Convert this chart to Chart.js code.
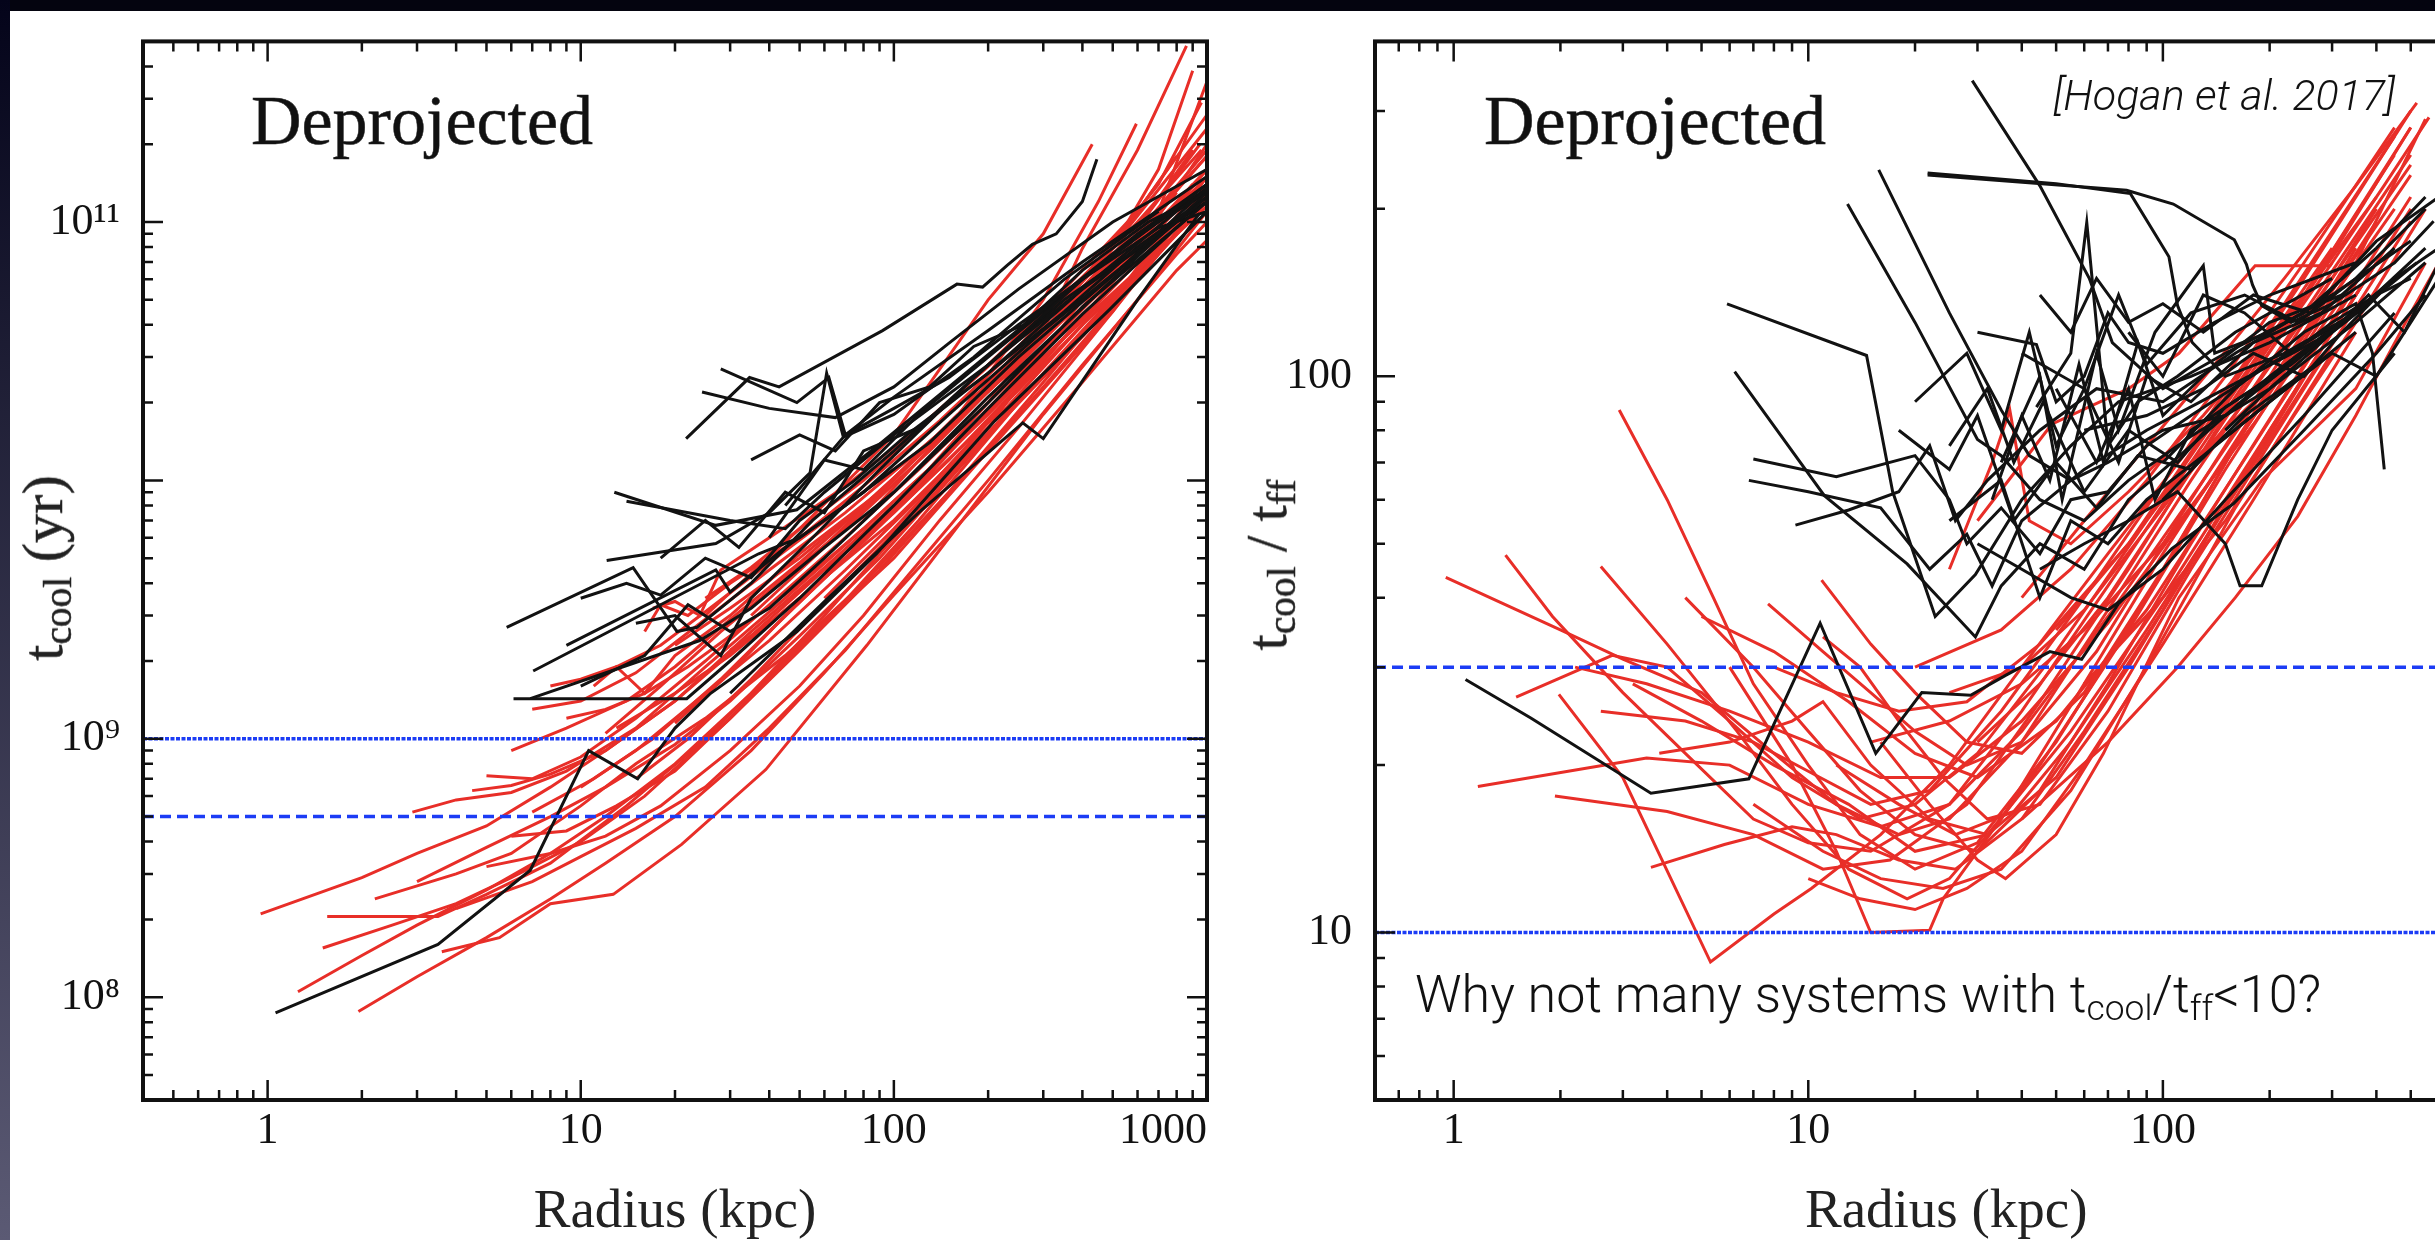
<!DOCTYPE html>
<html lang="en">
<head>
<meta charset="UTF-8">
<title>Cooling time profiles (deprojected)</title>
<script src="https://cdn.jsdelivr.net/npm/chart.js"></script>
<style>
  html, body { margin: 0; padding: 0; }
  body { width: 2435px; height: 1240px; overflow: hidden; position: relative; background: #04040f; }
  .edge { position: absolute; left: 0; top: 0; width: 10px; height: 1240px; background: linear-gradient(#04041a, #5b5a74); }
  .sheet { position: absolute; left: 10px; top: 11px; right: 0; bottom: 0; background: #fff; }
  canvas { position: absolute; top: 0; }
  #leftChart { left: 0; }
  #rightChart { left: 1290px; }
  .note { position: absolute; white-space: nowrap; color: #111; }
  .serif { font-family: 'Liberation Serif', serif; -webkit-text-stroke: 0.5px #222; }
  .sans { font-family: Roboto, 'Liberation Sans', sans-serif; font-weight: 300; }
  .ytitle { font-size: 58px; line-height: 1; transform: translate(-50%, -50%) rotate(-90deg); color: #222; }
  sub { font-size: 68%; vertical-align: -0.22em; line-height: 0; }
</style>
</head>
<body>
<div class="edge"></div>
<div class="sheet"></div>
<canvas id="leftChart" width="1290" height="1240"></canvas>
<canvas id="rightChart" width="1310" height="1240"></canvas>

<div class="note serif" style="left:251px; top:86px; font-size:70px; line-height:70px;">Deprojected</div>
<div class="note serif" style="left:1484px; top:86px; font-size:70px; line-height:70px;">Deprojected</div>
<div class="note sans" style="right:40px; top:74px; font-size:43px; line-height:43px; font-style:italic;">[Hogan et al. 2017]</div>
<div class="note sans" style="left:1415px; top:969px; font-size:52px; line-height:52px;">Why not many systems with t<sub>cool</sub>/t<sub>ff</sub>&lt;10?</div>
<div class="note serif ytitle" style="left:43px; top:568px;">t<sub>cool</sub> (yr)</div>
<div class="note serif ytitle" style="left:1267px; top:565px;">t<sub>cool</sub> / t<sub>ff</sub></div>

<script>
// ---- axis ranges and tick labels ----
const leftXRange = [0.4, 1000];
const leftYRange = [4e7, 5e11];
const rightXRange = [0.6, 1000];
const rightYRange = [5, 400];

const xTickValues = [1, 10, 100, 1000];
const xTickLabels = ['1', '10', '100', '1000'];
const leftYTickValues = [1e8, 1e9, 1e11];
const leftYTickLabels = ['10⁸', '10⁹', '10¹¹'];
const rightYTickValues = [10, 100];
const rightYTickLabels = ['10', '100'];

// horizontal reference levels
const leftDotted = 1e9;
const leftDashed = 5e8;
const rightDotted = 10;
const rightDashed = 30;

// ---- left panel: t_cool (yr) vs radius (kpc) ----
const leftRed = [
  [[0.95,2.1e8],[2,2.9e8],[3,3.6e8],[5,4.6e8],[8,6.5e8],[12,9e8],[20,1.4e9],[35,2.6e9],[60,4.6e9],[100,8e9],[200,1.8e10],[400,4.2e10],[700,8.5e10],[1000,1.3e11]],
  [[1.25,1.05e8],[2,1.45e8],[3,1.9e8],[5,2.6e8],[8,3.6e8],[12,5e8],[20,8e8],[35,1.5e9],[60,3e9],[100,6e9],[200,1.5e10],[400,3.6e10],[700,7.5e10],[1000,1.2e11]],
  [[1.95,8.8e7],[3,1.2e8],[5,1.7e8],[8,2.4e8],[12,3.3e8],[20,5e8],[35,9e8],[60,1.8e9],[100,3.6e9],[200,9e9],[400,2.4e10],[800,6.5e10],[1000,8.5e10]],
  [[1.55,2.05e8],[3.5,2.05e8],[5,2.5e8],[8,3.3e8],[14,5.5e8],[25,1e9],[50,2.3e9],[100,5e9],[200,1.3e10],[500,4.5e10],[1000,1.4e11]],
  [[1.5,1.55e8],[2.5,1.9e8],[4,2.3e8],[6,2.9e8],[10,4e8],[16,6e8],[30,1.2e9],[60,2.8e9],[120,7e9],[250,2e10],[500,5e10],[1000,1.5e11]],
  [[3.6,1.5e8],[5.5,1.7e8],[8,2.3e8],[12.7,2.5e8],[21,3.9e8],[39,7.6e8],[82,2.3e9],[150,6e9],[300,1.8e10],[600,5e10],[1000,1.1e11]],
  [[2.9,5.2e8],[4,5.8e8],[6,6.2e8],[9,7.5e8],[15,1.1e9],[25,1.9e9],[45,3.5e9],[80,6.5e9],[150,1.3e10],[300,3e10],[600,6.5e10],[1000,1.15e11]],
  [[4.5,6.3e8],[6,6.6e8],[8,7.3e8],[12,9e8],[20,1.4e9],[35,2.5e9],[60,4.5e9],[100,7.5e9],[200,1.7e10],[400,4e10],[800,9e10],[1000,1.25e11]],
  [[5,7.2e8],[7,7e8],[10,8.5e8],[15,1.2e9],[25,2e9],[40,3.3e9],[70,6e9],[120,1.1e10],[250,2.6e10],[500,6e10],[900,1.3e11]],
  [[8,1.6e9],[10,1.7e9],[13,1.9e9],[18,2.3e9],[25,3.1e9],[40,4.8e9],[70,8e9],[120,1.3e10],[250,2.8e10],[500,6.5e10],[1000,1.6e11]],
  [[9,1.2e9],[12,1.3e9],[16,1.5e9],[22,1.9e9],[30,2.5e9],[50,4e9],[80,6.5e9],[150,1.3e10],[300,3.2e10],[600,8e10],[1000,2e11]],
  [[3,2.8e8],[5,3.8e8],[8,5e8],[12,6.5e8],[20,9.5e8],[30,1.4e9],[50,2.5e9],[90,5e9],[160,1.1e10],[300,2.6e10],[600,6.5e10],[1000,1.3e11]],
  [[2.2,2.4e8],[4,3e8],[6,3.6e8],[10,5.5e8],[15,8e8],[25,1.2e9],[45,2.1e9],[80,4e9],[150,9e9],[300,2.3e10],[600,6e10],[1000,1.25e11]],
  [[5,3.2e8],[8,3.6e8],[12,4.2e8],[18,5.5e8],[30,9e8],[50,1.6e9],[80,3e9],[140,7e9],[250,1.6e10],[500,4.5e10],[1000,1.3e11]],
  [[6,4.2e8],[9,4.4e8],[13,5.5e8],[20,7.5e8],[30,1.2e9],[50,2.2e9],[90,4.5e9],[150,9e9],[300,2.4e10],[600,6.5e10],[1000,1.5e11]],
  [[4,2.2e8],[7,2.8e8],[10,3.5e8],[15,4.5e8],[25,6.5e8],[40,1.1e9],[70,2.2e9],[120,4.8e9],[200,1e10],[400,2.8e10],[800,7.5e10],[1000,1e11]],
  [[7,1.3e9],[10,1.4e9],[15,1.8e9],[25,2.9e9],[40,4.5e9],[70,7.5e9],[120,1.3e10],[200,2.2e10],[400,5e10],[700,1.1e11],[1000,1.8e11]],
  [[11,1.6e9],[13,1.9e9],[16,1.5e9],[20,2.1e9],[30,3e9],[50,5.2e9],[90,9e9],[150,1.6e10],[300,3.8e10],[600,9.5e10],[900,1.9e11]],
  [[16,2.6e9],[18,3.3e9],[22,3e9],[30,4e9],[50,6e9],[80,9.5e9],[140,1.7e10],[250,3.3e10],[500,8e10],[1000,2.3e11]],
  [[25,3.5e9],[35,4.6e9],[50,6.5e9],[80,1e10],[150,2e10],[300,4.5e10],[600,1.1e11],[1000,2.6e11]],
  [[20,2.3e9],[30,3.2e9],[50,5e9],[80,8e9],[150,1.6e10],[300,3.8e10],[600,9e10],[1000,1.8e11]],
  [[13,1.1e9],[20,1.5e9],[30,2.1e9],[50,3.5e9],[80,5.8e9],[150,1.2e10],[300,2.9e10],[600,7.5e10],[1000,1.6e11]],
  [[30,2.2e9],[40,2.8e9],[60,4.2e9],[100,7e9],[200,1.6e10],[400,4e10],[700,1.1e11],[1000,3.5e11]],
  [[40,2.6e9],[70,5e9],[120,1e10],[200,2e10],[300,3.8e10],[400,7.9e10],[600,1.9e11],[860,4.8e11]],
  [[60,3.5e9],[100,6.5e9],[200,1.6e10],[400,5e10],[700,1.6e11],[900,3.85e11]],
  [[35,3e9],[60,5.5e9],[100,1e10],[200,2.3e10],[400,6e10],[700,1.4e11],[960,2.9e11]],
  [[50,4.5e9],[90,9e9],[160,1.8e10],[300,4e10],[600,1e11],[960,1.9e11]],
  [[25,3e9],[50,6.5e9],[100,1.5e10],[200,5e10],[300,9e10],[430,2e11]],
  [[80,7e9],[150,1.6e10],[300,5e10],[450,1.2e11],[595,2.4e11]],
  [[10,6.5e8],[15,9e8],[25,1.5e9],[40,2.4e9],[70,4.5e9],[120,8.5e9],[220,1.9e10],[450,5e10],[900,1.4e11]],
  [[7,5.2e8],[11,7e8],[17,1e9],[28,1.7e9],[45,3e9],[80,5.8e9],[140,1.2e10],[280,2.9e10],[550,7e10],[1000,1.5e11]],
  [[12,1.05e9],[18,1.6e9],[28,2.6e9],[45,4.2e9],[75,7e9],[130,1.3e10],[250,2.9e10],[500,7e10],[1000,1.9e11]],
  [[15,7e8],[22,1e9],[35,1.7e9],[55,3e9],[90,5.5e9],[160,1.15e10],[320,2.8e10],[650,7e10],[1000,1.2e11]],
  [[20,1.15e9],[30,1.8e9],[45,3e9],[70,5e9],[120,9.5e9],[220,2.1e10],[420,5e10],[800,1.3e11]],
  [[6,9e8],[9,1.1e9],[14,1.4e9],[20,1.9e9],[30,2.9e9],[50,4.8e9],[85,8.5e9],[150,1.6e10],[300,3.8e10],[600,9.5e10],[950,2e11]],
  [[17,3.2e9],[20,3.4e9],[24,3e9],[28,4.5e9],[40,6e9],[70,9.5e9],[120,1.6e10],[250,3.5e10],[500,8e10],[800,1.8e11]]
];

const leftBlack = [
  [[1.06,8.7e7],[3.5,1.6e8],[6.9,3.1e8],[10.6,9e8],[15.2,7e8],[20,1.1e9],[26,1.5e9],[49,2.6e9],[88,5.2e9],[210,1.7e10],[490,4.6e10],[1000,1.1e11]],
  [[6.1,1.43e9],[21.8,1.43e9],[30,2e9],[50,3.5e9],[100,8e9],[200,1.9e10],[400,4.4e10],[800,9.5e10],[1000,1.2e11]],
  [[6.9,1.43e9],[24,2.4e9],[35,3.2e9],[60,5.5e9],[100,9e9],[200,2.1e10],[500,6e10],[1000,1.3e11]],
  [[5.8,2.7e9],[14.7,4.6e9],[20.3,2.6e9],[23.5,2.7e9],[35,4e9],[55,7e9],[100,1.3e10],[200,2.8e10],[400,6e10],[1000,1.4e11]],
  [[7.05,1.83e9],[37,5.2e9],[50,6e9],[80,9e9],[150,1.8e10],[300,3.8e10],[600,7.5e10],[1000,1.25e11]],
  [[9,2.3e9],[27,4.5e9],[30,3.7e9],[45,5.5e9],[70,8e9],[130,1.4e10],[250,3e10],[500,6.2e10],[1000,1.35e11]],
  [[12.8,9e9],[27,6.7e9],[49,7.7e9],[88,1.35e10],[150,2.3e10],[300,4.6e10],[600,9e10],[1000,1.4e11]],
  [[14,8.3e9],[30,7e9],[45,6.5e9],[60,9e9],[100,1.5e10],[200,2.8e10],[400,5.5e10],[800,1.1e11],[1000,1.3e11]],
  [[21.7,1.45e10],[34.6,2.5e10],[43,2.3e10],[92,3.8e10],[159,5.75e10],[192,5.6e10],[230,6.8e10],[277,8.2e10],[330,9e10],[400,1.2e11],[445,1.75e11]],
  [[24.4,2.2e10],[40,1.9e10],[65,1.75e10],[100,2.3e10],[150,3.4e10],[250,5.5e10],[500,1e11],[1000,1.6e11]],
  [[28,2.7e10],[49,2e10],[62,2.5e10],[70,1.5e10],[100,2.1e10],[200,3.8e10],[400,7e10],[1000,1.5e11]],
  [[12.1,4.9e9],[27,5.7e9],[40,7.5e9],[54,1.07e10],[61,2.6e10],[69,1.47e10],[100,1.8e10],[180,3e10],[350,6e10],[700,1.1e11]],
  [[30,1.5e9],[60,3.4e9],[120,7.5e9],[258,1.67e10],[300,1.45e10],[600,5e10],[946,1.08e11]],
  [[10,1.6e9],[16,2.1e9],[22,3.3e9],[30,2.6e9],[40,3.2e9],[60,5e9],[100,9e9],[200,2e10],[400,4.7e10],[1000,1.2e11]],
  [[15,2.8e9],[20,3e9],[28,2.1e9],[35,3.5e9],[55,6e9],[90,1.1e10],[180,2.5e10],[350,5e10],[700,9e10],[1000,1.2e11]],
  [[40,6e9],[60,1.2e10],[80,1.1e10],[120,1.8e10],[200,3e10],[300,4.5e10],[500,7.5e10],[700,1e11],[1000,1.35e11]],
  [[45,8e9],[70,1.5e10],[100,1.9e10],[150,2.5e10],[250,4e10],[400,6e10],[700,9.5e10],[1000,1.1e11]],
  [[18,5e9],[25,7e9],[32,5.5e9],[45,9e9],[60,7.5e9],[80,1.3e10],[120,1.6e10],[200,2.6e10],[350,4.5e10],[600,8e10],[1000,1.25e11]],
  [[10,3.5e9],[14,4e9],[18,3.6e9],[25,5e9],[35,4.2e9],[50,7e9],[75,1e10],[110,1.5e10],[200,2.6e10],[400,5.5e10],[800,1e11]],
  [[35,1.2e10],[50,1.5e10],[65,1.3e10],[90,2e10],[130,2.3e10],[180,3.3e10],[260,4e10],[400,6.5e10],[650,1e11],[1000,1.3e11]]
];

// ---- right panel: t_cool / t_ff vs radius (kpc) ----
const rightRed = [
  [[0.95,43.5],[2,35],[3,31],[5,27],[8,21],[12,17],[18,15],[25,16],[40,22],[70,38],[120,65],[250,130],[500,250]],
  [[1.4,47.7],[1.9,37],[3,27],[4.5,21],[7,16],[10,14.5],[15,14],[25,17],[40,25],[70,42],[120,70],[250,140],[500,280]],
  [[1.5,26.5],[2.8,31.5],[4,30],[6,24],[9,19],[14,16],[20,17],[30,21],[50,32],[90,55],[180,105],[400,210]],
  [[1.17,18.3],[3.5,20.6],[6,20],[10,17],[16,15.5],[25,17],[40,23],[70,37],[130,65],[250,120],[500,230]],
  [[1.93,17.6],[4,16.5],[7,15],[11,13],[17,13.5],[28,17],[45,26],[80,45],[150,85],[300,160]],
  [[1.98,26.8],[3,19],[5.3,8.85],[8,10.8],[10.2,12],[16,15],[25,20],[40,30],[70,48],[130,80],[250,150],[500,300]],
  [[2.6,45.5],[4,33],[6.3,23],[9,17],[13,13],[19,11.5],[25,12.5],[35,16],[60,28],[100,48],[200,95],[400,190]],
  [[2.93,87],[4,60],[5.4,40],[7,28],[10,20],[14,15],[20,13],[30,14.5],[50,22],[90,40],[170,80],[350,160],[550,290]],
  [[4.5,40],[7,30],[10,23],[14,18],[20,15],[30,14],[45,18],[70,28],[120,50],[250,105],[500,210]],
  [[2.6,25],[4.5,24],[7,22],[10,19.5],[15,17],[22,18],[35,25],[60,40],[110,70],[220,135],[450,270]],
  [[7.7,39],[11,32],[15,27],[20,23],[28,20],[40,22],[65,32],[110,55],[200,100],[400,200]],
  [[10.9,43],[15,33],[20,27],[28,22],[40,21],[60,27],[100,45],[180,85],[350,170]],
  [[3.8,21],[6,22],[9,24],[11,26],[15,20],[22,16],[32,15],[50,19],[80,30],[150,58],[300,115]],
  [[3.6,13.1],[5.8,14.4],[9,15.5],[12,15],[18,13.5],[26,13],[40,16],[60,23],[100,38],[200,80],[400,160]],
  [[6,30],[9,20],[12,14],[15,10],[22,10.1],[24,11.5],[30,14],[45,20],[80,35],[150,68],[300,135]],
  [[16,22],[22,17],[30,13.5],[36,12.5],[50,15],[68,21],[111,40],[190,65],[350,95],[550,160]],
  [[11,34],[14,30],[18,24],[24,19],[32,16],[45,17],[70,25],[120,45],[250,95],[500,190]],
  [[25,45],[33,70],[37,87],[42,55],[55,50],[80,62],[130,85],[250,140],[450,250]],
  [[30,55],[48.6,82],[80,95],[111,110],[182,158],[296,158],[420,220],[563,292]],
  [[30,22],[45,28],[70,40],[110,62],[180,100],[300,165],[500,280]],
  [[20,30],[35,35],[55,45],[90,65],[150,100],[250,160],[450,280]],
  [[40,40],[60,55],[90,75],[140,105],[220,150],[350,220],[520,310]],
  [[50,35],[80,50],[120,70],[180,90],[280,130],[450,200]],
  [[60,28],[100,40],[150,55],[220,80],[350,125],[550,200]],
  [[25,27],[40,30],[60,38],[100,58],[170,90],[300,150],[500,240]],
  [[15,22],[25,24],[40,28],[60,35],[100,50],[180,82],[350,150]],
  [[8,30],[12,27],[18,25],[28,26],[45,33],[80,50],[150,90],[300,170]],
  [[5,37],[8,32],[13,26],[20,21],[30,19],[50,24],[90,38],[180,75],[350,145]],
  [[3.2,28],[5,24],[8,20],[13,17],[20,14],[32,15],[55,23],[100,40],[200,80],[400,160]],
  [[7,17],[11,14],[16,12.5],[24,12],[35,13],[55,18],[90,30],[160,58],[300,110]],
  [[10,12.5],[14,11.5],[20,11],[28,12],[40,14],[60,20],[100,33],[180,60],[350,120]],
  [[12,20],[18,17],[26,15],[38,16.5],[55,22],[90,35],[160,62],[300,120],[500,200]],
  [[2.2,30],[3.5,28],[6,25],[10,22],[16,19],[25,19],[40,24],[70,36],[130,62],[250,115]],
  [[40,16],[70,22],[110,30],[160,40],[240,56],[350,85],[500,130],[600,160]]
];

const rightBlack = [
  [[29,340],[45,220],[62,150],[72,115],[100,95],[150,110],[250,130],[400,170],[550,210]],
  [[21.7,230],[79,216],[107,204],[159,176],[172,159],[179,146],[190,134],[230,125],[300,135],[450,160],[580,190]],
  [[21.7,232],[50,222],[81,213],[104,164],[110,134],[121,115],[150,100],[220,110],[350,130],[550,170]],
  [[15.8,235],[25,130],[35,87],[42,72],[55,65],[70,70],[100,80],[150,85],[250,110],[450,150]],
  [[12.9,204],[20,125],[30,77],[35,72],[45,60],[60,55],[80,65],[120,78],[200,95],[350,125],[550,160]],
  [[5.9,135],[14.6,109],[17.3,62],[22.8,37],[29.6,44],[40,60],[55,75],[75,90],[120,100],[200,115],[350,140]],
  [[6.2,102],[11.1,61],[19,46],[29.6,34],[35,42],[45,50],[60,45],[80,60],[120,75],[200,100],[400,140]],
  [[7,71],[12,66],[20,72],[25,60],[28,50],[35,58],[45,48],[55,60],[70,62],[90,75],[120,85],[200,105],[350,130]],
  [[6.8,65],[10,62],[16,58],[22,45],[28,52],[33,42],[40,55],[60,68],[90,80],[150,95],[300,120]],
  [[9.2,54],[13,57.5],[18,62],[22,75],[26,55],[32,65],[45,80],[65,95],[100,90],[160,110],[300,140]],
  [[1.08,28.5],[1.65,24.3],[3.6,17.8],[6.8,18.9],[10.8,36],[15.5,21],[20.9,27],[28.7,26.7],[36,29],[48,32],[59,31],[75,39],[106,49],[158,59],[250,80],[400,110],[550,140]],
  [[44,88],[55,110],[61,189],[70,75],[85,90],[110,100],[160,120],[300,150]],
  [[30,120],[44,114],[50,90],[60,100],[70,130],[80,115],[100,110],[140,125],[200,140],[350,160]],
  [[35,70],[45,100],[52,60],[65,110],[75,80],[95,120],[130,158],[140,110],[200,120],[300,140],[500,175]],
  [[45,45],[60,50],[80,55],[110,62],[150,50],[165,42],[190,42],[240,60],[300,80],[450,110]],
  [[100,70],[160,95],[250,120],[350,135],[390,110],[421,68]],
  [[30,50],[40,45],[55,40],[70,38],[100,45],[150,60],[250,85],[450,130]],
  [[25,55],[35,65],[45,40],[55,55],[70,50],[90,60],[130,72],[200,90],[350,120]],
  [[50,95],[65,70],[80,95],[95,60],[120,80],[180,95],[300,120],[520,160]],
  [[40,110],[60,95],[75,140],[90,105],[120,130],[170,140],[240,125],[350,150],[550,200]],
  [[80,120],[100,100],[130,140],[170,130],[230,110],[300,125],[400,140],[500,150]],
  [[100,60],[140,75],[200,90],[300,110],[400,100],[500,125],[600,150]],
  [[60,80],[90,85],[130,95],[180,110],[250,100],[320,120],[450,150],[600,170]],
  [[150,80],[200,95],[280,115],[380,140],[480,120],[600,160]],
  [[20,90],[28,110],[35,80],[42,120],[50,75],[60,95],[75,70],[90,100],[120,90],[180,115],[280,130],[450,170]],
  [[33,60],[40,85],[48,65],[58,105],[68,70],[85,115],[100,85],[140,105],[200,125],[320,140]],
  [[25,75],[32,95],[38,70],[46,90],[60,62],[80,80],[110,70],[150,88],[230,105],[380,135]],
  [[45,140],[55,120],[65,150],[80,125],[100,135],[130,120],[180,140],[260,130],[400,175],[600,210]],
  [[18,80],[25,68],[30,85],[38,55],[50,70],[65,58],[85,72],[120,68],[170,85],[270,105]]
];

const RED = 'rgb(232,46,40)';
const BLACK = '#121212';
const BLUE = '#1c3cf5';

// all decade and in-between ticks of a log axis
function logTicks(min, max) {
  const out = [];
  for (let e = Math.floor(Math.log10(min)); e <= Math.ceil(Math.log10(max)); e++) {
    for (let k = 1; k <= 9; k++) {
      const v = k * Math.pow(10, e);
      if (v >= min * 0.999 && v <= max * 1.001) out.push({ value: v, major: k === 1 });
    }
  }
  return out;
}

function labelFor(v, values, labels) {
  for (let i = 0; i < values.length; i++) {
    if (Math.abs(Math.log10(v) - Math.log10(values[i])) < 1e-6) return labels[i];
  }
  return '';
}

function profile(points, color, width, order) {
  return {
    data: points.map(p => ({ x: p[0], y: p[1] })),
    borderColor: color, borderWidth: width,
    pointRadius: 0, tension: 0, fill: false, order
  };
}

function level(y, xr, dash) {
  return {
    data: [{ x: xr[0], y }, { x: xr[1], y }],
    borderColor: BLUE, borderWidth: 3.5, borderDash: dash,
    pointRadius: 0, fill: false, order: 0
  };
}

// box border with inward ticks on all four sides (IDL style)
const frame = {
  id: 'frame',
  afterDraw(chart) {
    const { ctx, chartArea: a, scales: { x, y } } = chart;
    ctx.save();
    ctx.strokeStyle = '#111';
    ctx.lineWidth = 2.5;
    ctx.beginPath();
    x.ticks.forEach(t => {
      const p = x.getPixelForValue(t.value);
      if (p <= a.left + 2 || p >= a.right - 2) return;
      const len = t.major ? 20 : 10;
      ctx.moveTo(p, a.bottom); ctx.lineTo(p, a.bottom - len);
      ctx.moveTo(p, a.top); ctx.lineTo(p, a.top + len);
    });
    y.ticks.forEach(t => {
      const p = y.getPixelForValue(t.value);
      if (p <= a.top + 2 || p >= a.bottom - 2) return;
      const len = t.major ? 20 : 10;
      ctx.moveTo(a.left, p); ctx.lineTo(a.left + len, p);
      ctx.moveTo(a.right, p); ctx.lineTo(a.right - len, p);
    });
    ctx.stroke();
    ctx.lineWidth = 4;
    ctx.strokeRect(a.left, a.top, a.right - a.left, a.bottom - a.top);
    ctx.restore();
  }
};

Chart.defaults.font.family = "'Liberation Serif', serif";
Chart.defaults.color = '#111';

function makePanel(id, cfg) {
  const datasets = [];
  cfg.red.forEach(l => datasets.push(profile(l, RED, 3, 2)));
  cfg.black.forEach(l => datasets.push(profile(l, BLACK, 3, 1)));
  datasets.push(level(cfg.dotted, cfg.xr, [4, 1.5]));
  datasets.push(level(cfg.dashed, cfg.xr, [11, 6]));

  return new Chart(document.getElementById(id), {
    type: 'line',
    data: { datasets },
    plugins: [frame],
    options: {
      responsive: false,
      animation: false,
      events: [],
      layout: { padding: { top: 36, right: cfg.padRight, left: 0, bottom: 0 } },
      plugins: { legend: { display: false }, tooltip: { enabled: false } },
      scales: {
        x: {
          type: 'logarithmic', min: cfg.xr[0], max: cfg.xr[1],
          grid: { display: false }, border: { display: false },
          afterBuildTicks: s => { s.ticks = logTicks(cfg.xr[0], cfg.xr[1]); },
          afterFit: s => { s.height = 140; },
          ticks: {
            autoSkip: false, maxRotation: 0, padding: 1, align: cfg.xAlign,
            font: { size: 44, lineHeight: 1 },
            callback: v => labelFor(v, xTickValues, xTickLabels)
          },
          title: { display: true, text: 'Radius (kpc)', color: '#222', font: { size: 55, lineHeight: 1 }, padding: { top: 0, bottom: 0 } }
        },
        y: {
          type: 'logarithmic', min: cfg.yr[0], max: cfg.yr[1],
          grid: { display: false }, border: { display: false },
          afterBuildTicks: s => { s.ticks = logTicks(cfg.yr[0], cfg.yr[1]); },
          afterFit: s => { s.width = cfg.yWidth; },
          ticks: {
            autoSkip: false, padding: 15, font: { size: 44 },
            callback: v => labelFor(v, cfg.yValues, cfg.yLabels)
          }
        }
      }
    }
  });
}

makePanel('leftChart', {
  red: leftRed, black: leftBlack, xr: leftXRange, yr: leftYRange,
  dotted: leftDotted, dashed: leftDashed,
  yValues: leftYTickValues, yLabels: leftYTickLabels,
  yWidth: 143, padRight: 83, xAlign: 'inner'
});

makePanel('rightChart', {
  red: rightRed, black: rightBlack, xr: rightXRange, yr: rightYRange,
  dotted: rightDotted, dashed: rightDashed,
  yValues: rightYTickValues, yLabels: rightYTickLabels,
  yWidth: 85, padRight: 82.5, xAlign: 'center'
});
</script>
</body>
</html>
